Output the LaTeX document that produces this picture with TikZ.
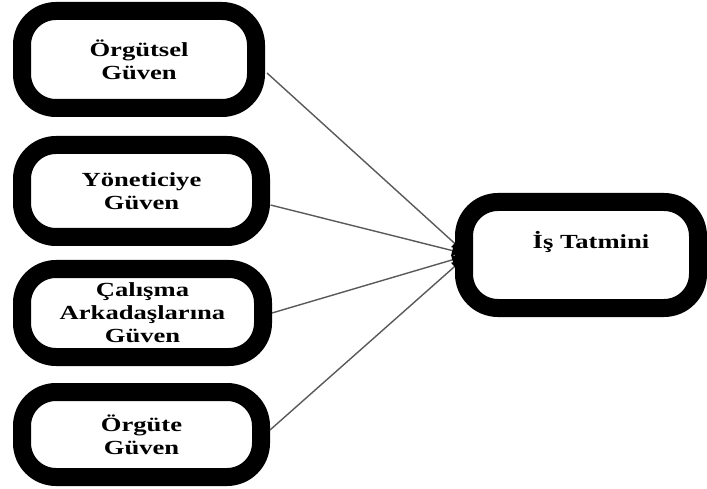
\documentclass[tikz,border=0pt]{standalone}
\usepackage{fontspec}
\setmainfont{Liberation Serif}[FakeStretch=1.33]
\usetikzlibrary{calc,arrows.meta}
\begin{document}
\begin{tikzpicture}[x=1pt,y=-1pt,
  box/.style={draw=black, line width=18pt, rounded corners=34pt, fill=white,
    inner sep=0pt, align=center, font=\fontsize{20}{23}\selectfont\bfseries},
  conn/.style={draw=black!65, line width=1.4pt, -{Triangle[length=10pt,width=10pt,color=black,fill=black]}},
  lbl/.style={inner sep=0pt, font=\fontsize{20}{23}\selectfont\bfseries}]
\useasboundingbox (0,0) rectangle (707,489);
\node[box, minimum width=234pt, minimum height=97pt] (b1) at (139,59.5) {Örgütsel\\Güven};
\node[box, minimum width=239pt, minimum height=92pt] (b2) at (141.5,191) {Yöneticiye\\Güven};
\node[box, minimum width=241pt, minimum height=88pt] (b3) at (142.5,313) {Çalışma\\Arkadaşlarına\\Güven};
\node[box, minimum width=239pt, minimum height=85pt] (b4) at (141.5,434.5) {Örgüte\\Güven};
\node[box, minimum width=234pt, minimum height=106pt] (rb) at (581,255) {};
\node[lbl, anchor=base] (rt) at (591,248) {İş Tatmini};
\draw[conn] ($(b1.east)+(2,13.5)$) -- ($(rb.west)+(7,-5)$);
\draw[conn] ($(b2.east)+(0.5,14)$) -- ($(rb.west)+(7,-2)$);
\draw[conn] ($(b3.east)+(0,0)$) -- ($(rb.west)+(7,2)$);
\draw[conn] ($(b4.east)+(0,-4.5)$) -- ($(rb.west)+(7,5)$);
\end{tikzpicture}
\end{document}
